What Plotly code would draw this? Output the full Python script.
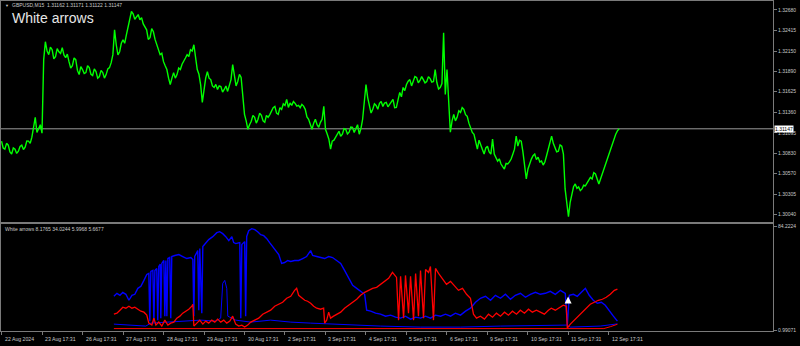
import plotly.graph_objects as go

# ---------------- data ----------------
# time axis: hours since the first bar (22 Aug 2024); one trading day = 24 h
price_hours = list(range(0, 367))
price_values = [
 1.30988,1.30900,1.30885,1.30960,1.30936,1.30850,1.30821,1.30900,1.30885,1.30830,
 1.30859,1.30920,1.30936,1.30880,1.30911,1.30990,1.30988,1.30960,1.31039,1.31150,
 1.31295,1.31100,1.31141,1.31200,1.31090,1.32039,1.32270,1.32150,1.32103,1.32200,
 1.32167,1.32050,1.32077,1.32180,1.32141,1.32120,1.32193,1.32100,1.32064,1.32110,
 1.32013,1.31930,1.31962,1.32060,1.32039,1.31900,1.31846,1.31950,1.31911,1.31860,
 1.31872,1.31960,1.31936,1.31850,1.31834,1.31920,1.31885,1.31800,1.31821,1.31900,
 1.31872,1.31800,1.31846,1.31920,1.31936,1.32000,1.32103,1.32423,1.32231,1.32100,
 1.32141,1.32250,1.32295,1.32250,1.32359,1.32450,1.32552,1.32660,1.32629,1.32560,
 1.32590,1.32620,1.32552,1.32580,1.32500,1.32450,1.32423,1.32300,1.32321,1.32440,
 1.32398,1.32300,1.32231,1.32150,1.32103,1.32120,1.32013,1.31960,1.31911,1.31800,
 1.31718,1.31800,1.31872,1.31800,1.31846,1.31930,1.31911,1.31980,1.32013,1.32060,
 1.32103,1.32080,1.32167,1.32150,1.32231,1.32050,1.31911,1.31850,1.31718,1.31488,
 1.31654,1.31800,1.31885,1.31800,1.31782,1.31700,1.31680,1.31720,1.31654,1.31700,
 1.31693,1.31620,1.31654,1.31700,1.31629,1.31700,1.31782,1.31975,1.31846,1.31700,
 1.31757,1.31850,1.31808,1.31600,1.31334,1.31250,1.31141,1.31200,1.31244,1.31320,
 1.31295,1.31220,1.31270,1.31350,1.31321,1.31250,1.31231,1.31320,1.31295,1.31330,
 1.31372,1.31420,1.31436,1.31350,1.31334,1.31420,1.31398,1.31470,1.31449,1.31526,
 1.31423,1.31480,1.31449,1.31500,1.31475,1.31440,1.31449,1.31420,1.31462,1.31440,
 1.31398,1.31300,1.31270,1.31200,1.31141,1.31220,1.31270,1.31200,1.31167,1.31230,
 1.31270,1.31436,1.31141,1.31080,1.31013,1.30885,1.30988,1.31000,1.31039,1.31080,
 1.31116,1.31050,1.31077,1.31150,1.31141,1.31080,1.31103,1.31170,1.31167,1.31100,
 1.31141,1.31200,1.31077,1.31150,1.31270,1.31500,1.31718,1.31550,1.31462,1.31350,
 1.31398,1.31470,1.31449,1.31400,1.31475,1.31500,1.31436,1.31480,1.31488,1.31430,
 1.31462,1.31500,1.31526,1.31420,1.31423,1.31520,1.31616,1.31560,1.31680,1.31640,
 1.31718,1.31760,1.31782,1.31700,1.31757,1.31820,1.31808,1.31740,1.31770,1.31820,
 1.31782,1.31740,1.31757,1.31820,1.31795,1.31750,1.31757,1.31911,1.31744,1.31660,
 1.31680,1.31731,1.32385,1.31590,1.31911,1.31526,1.31103,1.31250,1.31334,1.31250,
 1.31295,1.31380,1.31359,1.31420,1.31398,1.31330,1.31308,1.31220,1.31167,1.31100,
 1.31077,1.30980,1.30885,1.31000,1.30949,1.30880,1.30821,1.30900,1.30923,1.30850,
 1.30821,1.31013,1.30821,1.30780,1.30731,1.30760,1.30693,1.30660,1.30629,1.30700,
 1.30693,1.30720,1.30757,1.30820,1.30885,1.31052,1.30923,1.31000,1.30988,1.30850,
 1.30693,1.30500,1.30629,1.30700,1.30757,1.30800,1.30821,1.30750,1.30782,1.30720,
 1.30731,1.30680,1.30718,1.30800,1.30885,1.30950,1.31052,1.30960,1.30911,1.30850,
 1.30859,1.30940,1.30923,1.30821,1.30372,1.30180,1.30013,1.30200,1.30308,1.30400,
 1.30436,1.30380,1.30398,1.30350,1.30372,1.30420,1.30411,1.30450,1.30475,1.30520,
 1.30500,1.30580,1.30564,1.30500,1.30436,1.30500,1.30564,1.30640,1.30693,1.30760,
 1.30821,1.30880,1.30949,1.31020,1.31077,1.31120,1.31147]

blue_hours = [66.6,68.4,70.2,71.9,73.7,75.5,77.3,79.0,80.8,82.6,84.4,86.1,87.3,87.9,88.5,89.7,90.3,90.9,92.0,92.6,93.2,94.1,94.4,95.0,96.2,96.8,97.4,98.0,98.6,99.7,100.3,100.9,102.7,105.1,107.4,109.8,112.2,113.4,114.0,114.5,116.3,116.9,117.5,118.7,119.3,121.0,122.8,125.2,127.6,129.3,131.1,132.9,134.7,136.5,137.6,138.8,141.2,141.8,142.4,144.1,144.7,145.3,146.5,148.3,150.1,151.8,153.6,155.4,157.2,158.9,160.7,162.5,164.3,166.0,167.8,169.6,171.4,173.7,176.1,178.5,180.8,183.2,184.4,186.8,189.1,191.5,193.9,196.2,198.6,201.0,203.3,205.7,208.1,210.5,212.8,215.2,216.4,218.8,221.7,224.6,227.6,230.6,233.5,236.5,239.4,242.4,245.4,248.3,251.3,254.2,257.2,260.2,263.1,266.1,269.0,272.0,275.0,277.9,280.9,283.8,286.8,289.8,292.7,295.7,298.6,301.6,304.5,307.5,310.5,313.4,316.4,319.3,322.3,325.2,328.2,331.2,334.1,335.3,336.5,338.9,341.2,343.6,346.0,348.3,350.7,353.1,355.5,357.8,360.2,362.6,365.0]
blue_values = [28.2,30.6,29.0,31.4,29.8,25.0,29.0,29.8,34.6,36.2,41.0,45.8,46.6,8.2,48.2,49.0,7.4,49.0,50.6,9.0,52.2,54.0,10.6,54.6,57.0,12.2,57.0,12.2,58.6,59.4,10.6,60.2,61.0,61.8,60.2,58.6,59.4,57.8,12.2,60.2,65.0,17.0,66.6,14.6,68.2,71.4,73.8,76.2,79.4,80.2,78.6,76.2,73.0,76.2,71.4,70.6,71.4,10.6,69.8,72.2,12.2,76.2,81.0,82.6,81.8,80.2,77.8,77.0,74.6,71.4,68.2,65.0,61.8,54.6,55.4,57.0,56.2,57.0,57.0,58.6,60.2,65.0,61.0,60.2,59.4,58.6,60.2,59.4,57.0,54.6,49.0,42.6,37.0,34.6,32.2,29.8,17.0,16.2,14.6,13.8,12.2,13.0,11.4,10.6,12.2,9.8,11.4,10.6,12.2,10.6,13.0,12.2,13.8,12.2,14.6,13.0,16.2,18.6,23.4,26.6,28.2,25.0,29.0,26.6,29.8,25.8,29.0,30.6,27.4,29.8,31.4,29.8,30.6,32.2,29.8,33.0,30.6,5.0,29.0,29.8,28.2,31.4,34.6,29.0,25.0,22.6,23.4,21.0,16.2,12.2,8.1765]

red_hours = [66.6,68.4,70.2,71.9,73.7,75.5,77.3,79.0,80.8,82.6,84.4,86.1,87.3,89.1,90.3,91.5,93.2,95.0,96.8,98.6,100.3,102.1,103.9,105.7,107.4,109.2,111.0,112.8,113.4,114.0,115.7,117.5,119.3,121.0,122.8,124.6,126.4,128.1,129.9,131.7,133.5,135.3,137.0,138.8,140.6,142.4,144.1,145.9,147.7,150.1,152.4,154.8,157.2,159.5,161.9,164.3,166.6,169.0,171.4,173.7,174.9,176.1,177.9,179.7,181.4,183.2,185.0,186.8,189.1,190.9,191.5,192.7,193.9,195.0,196.8,198.6,201.0,203.3,205.7,208.1,210.5,212.8,215.2,217.6,219.9,222.3,224.6,227.0,229.4,231.7,234.1,235.3,236.5,238.3,239.4,241.2,242.4,244.2,245.4,247.1,248.3,250.1,251.3,253.1,254.2,256.0,257.2,259.0,261.3,263.7,266.1,268.4,270.8,273.2,275.6,277.9,279.7,281.5,283.8,286.2,288.6,291.0,293.3,295.7,298.1,300.4,302.8,305.2,307.5,309.9,312.3,314.6,317.0,319.3,321.7,324.1,325.8,328.2,330.6,332.9,334.7,335.3,337.1,339.4,341.8,344.2,346.6,348.9,351.3,353.7,356.1,358.4,360.8,363.2,365.0]
red_values = [13.8,14.6,17.0,19.4,18.6,20.2,18.6,19.4,17.8,16.2,15.4,13.0,6.6,5.0,10.6,5.0,7.4,4.2,9.0,5.0,6.6,7.4,10.6,12.2,14.6,16.2,17.8,20.2,21.8,4.2,6.6,9.0,5.8,8.2,6.6,9.0,7.4,9.8,7.4,9.0,6.6,8.2,12.2,5.8,4.2,5.0,3.4,5.0,7.4,9.0,10.6,13.8,15.4,17.0,20.2,21.8,23.4,26.6,28.2,33.0,34.6,29.0,26.6,25.0,24.2,22.6,20.2,18.6,17.8,18.6,6.6,9.0,15.4,10.6,12.2,13.8,15.4,18.6,21.0,23.4,25.8,29.0,31.4,33.0,34.6,35.4,37.8,40.2,42.6,47.4,43.4,9.0,44.2,10.6,45.0,14.6,44.2,9.0,46.6,12.2,49.0,10.6,49.8,47.4,52.2,9.0,50.6,46.6,42.6,37.8,40.2,36.2,33.0,34.6,29.8,26.6,13.8,10.6,12.2,9.8,13.8,11.4,14.6,12.2,15.4,13.0,16.2,13.8,17.0,14.6,17.8,15.4,17.0,15.4,13.8,17.0,18.6,17.0,19.4,21.0,20.2,2.6,5.8,9.0,12.2,15.4,19.4,21.8,23.4,25.0,25.8,27.4,29.8,33.0,34.0244]

blue_low_hours = [66.6,76.7,85.5,88.5,100.3,112.2,118.1,127.0,129.9,131.1,132.3,133.5,134.1,138.8,147.7,159.5,171.4,183.2,195.0,206.9,224.6,248.3,272.0,295.7,319.3,334.7,337.1,354.9,365.0]
blue_low_values = [5.8,5.0,4.2,6.6,7.4,8.2,9.0,8.2,10.6,38.6,41.0,34.6,12.2,9.0,7.4,9.0,7.4,6.6,5.8,5.0,4.2,3.4,3.4,4.2,5.0,5.0,3.4,4.2,5.9968]

red_low_hours = [66.6,180.0,300.0,357.0,361.0,365.0]
red_low_values = [2.2,2.0,2.0,2.2,3.8,5.6677]

arrow_hour = [335.8]
arrow_value = [28.0]

day_tick_hours = [0,24,48,72,96,120,144,168,192,216,240,264,288,312,336,360]
day_tick_labels = ["22 Aug 2024","23 Aug 17:31","26 Aug 17:31","27 Aug 17:31","28 Aug 17:31",
                   "29 Aug 17:31","30 Aug 17:31","2 Sep 17:31","3 Sep 17:31","4 Sep 17:31",
                   "5 Sep 17:31","6 Sep 17:31","9 Sep 17:31","10 Sep 17:31","11 Sep 17:31","12 Sep 17:31"]
price_ticks = [1.32680,1.32415,1.32150,1.31890,1.31625,1.31360,1.31095,1.30830,1.30570,1.30305,1.30040]
sub_ticks = [84.2224, 0.99071]
sub_tick_labels = ["84.2224", "0.99071"]
bid_price = 1.31147
header = "GBPUSD,M15  1.31162 1.31171 1.31122 1.31147"
sub_label = "White arrows 8.1765 34.0244 5.9968 5.6677"

# ---------------- figure ----------------
W, H = 800, 346
PW = 773  # plot area width in px
BORDER = "#7a7a7a"
TXT = "#c8c8c8"
FONT = "Liberation Sans, Arial, sans-serif"

def py(p):
    return (H - p) / H

def px(p):
    return p / PW

fig = go.Figure()

fig.add_trace(go.Scatter(x=price_hours, y=price_values, mode="lines",
                         line=dict(color="#00ff00", width=1.4), xaxis="x2", yaxis="y",
                         hoverinfo="skip"))

fig.add_trace(go.Scatter(x=blue_low_hours, y=blue_low_values, mode="lines",
                         line=dict(color="#0000ff", width=1), xaxis="x", yaxis="y2"))
fig.add_trace(go.Scatter(x=red_low_hours, y=red_low_values, mode="lines",
                         line=dict(color="#ff0000", width=1), xaxis="x", yaxis="y2"))
fig.add_trace(go.Scatter(x=blue_hours, y=blue_values, mode="lines",
                         line=dict(color="#0000ff", width=1.4), xaxis="x", yaxis="y2"))
fig.add_trace(go.Scatter(x=red_hours, y=red_values, mode="lines",
                         line=dict(color="#ff0000", width=1.3), xaxis="x", yaxis="y2"))
fig.add_trace(go.Scatter(x=arrow_hour, y=arrow_value, mode="markers",
                         marker=dict(symbol="arrow-up", size=7, color="white"),
                         xaxis="x", yaxis="y2"))

xr = [-0.3, 457.2]
fig.update_layout(
    width=W, height=H, showlegend=False,
    paper_bgcolor="black", plot_bgcolor="black",
    margin=dict(l=0, r=W - PW, t=0, b=0),
    font=dict(family=FONT, color=TXT, size=5),
    xaxis=dict(domain=[0, 1], anchor="y2", range=xr, showgrid=False, zeroline=False,
               showline=True, linecolor=BORDER, linewidth=1, mirror=True,
               ticks="outside", ticklen=3, tickcolor=BORDER, tickvals=day_tick_hours,
               showticklabels=False),
    xaxis2=dict(domain=[0, 1], anchor="y", matches="x", range=xr, showgrid=False,
                zeroline=False, showline=True, linecolor=BORDER, linewidth=1, mirror=True,
                showticklabels=False, ticks=""),
    yaxis=dict(domain=[py(223), py(1.5)], anchor="x2", side="right",
               range=[1.32808 - 223 * 0.0001282, 1.32808 - 1.5 * 0.0001282],
               tickvals=price_ticks, tickformat=".5f", ticks="outside", ticklen=3,
               tickcolor=BORDER, tickfont=dict(size=5, color=TXT, family=FONT),
               showgrid=False, zeroline=False, showline=True, linecolor=BORDER,
               mirror=True),
    yaxis2=dict(domain=[py(333), py(225)], anchor="x", side="right",
                range=[0.99 - 1 * 0.8003, 0.99 + 107 * 0.8003],
                tickvals=sub_ticks, ticktext=sub_tick_labels, ticks="outside", ticklen=3,
                tickcolor=BORDER, tickfont=dict(size=5, color=TXT, family=FONT),
                showgrid=False, zeroline=False, showline=True, linecolor=BORDER,
                mirror=True),
)

# bid line
fig.add_shape(type="line", xref="x2 domain", yref="y", x0=0, x1=1, y0=bid_price, y1=bid_price,
              line=dict(color="#9a9a9a", width=1), layer="below")

ann = []
# time labels
for h, t in zip(day_tick_hours, day_tick_labels):
    ann.append(dict(x=h, xref="x", y=py(341), yref="paper", text=t, showarrow=False,
                    xanchor="left", yanchor="middle", xshift=1,
                    font=dict(size=5.2, color=TXT, family=FONT)))
# current price box
ann.append(dict(x=1, xref="paper", y=bid_price, yref="y", text="1.31147", showarrow=False,
                xanchor="left", yanchor="middle", xshift=1, bgcolor="white", borderpad=0,
                font=dict(size=5, color="black", family=FONT)))
# header
ann.append(dict(x=px(2), xref="paper", y=py(5.5), yref="paper", text="▼", showarrow=False,
                xanchor="left", yanchor="middle", font=dict(size=4, color=TXT, family=FONT)))
ann.append(dict(x=px(9), xref="paper", y=py(5.5), yref="paper", text=header, showarrow=False,
                xanchor="left", yanchor="middle", font=dict(size=5, color=TXT, family=FONT)))
ann.append(dict(x=px(9), xref="paper", y=py(18), yref="paper", text="White arrows",
                showarrow=False, xanchor="left", yanchor="middle",
                font=dict(size=14, color="#e6e6e6", family=FONT)))
ann.append(dict(x=px(2), xref="paper", y=py(230.5), yref="paper", text=sub_label,
                showarrow=False, xanchor="left", yanchor="middle",
                font=dict(size=5, color=TXT, family=FONT)))
fig.update_layout(annotations=ann)

fig.write_html("out.html")
